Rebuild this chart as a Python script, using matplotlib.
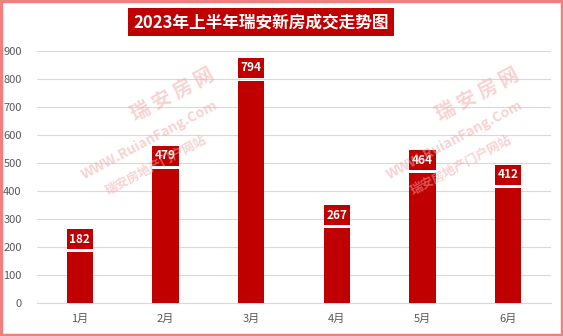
import matplotlib.pyplot as plt
from matplotlib.patches import Rectangle

plt.rcParams['font.family'] = ['Noto Sans CJK SC', 'DejaVu Sans']

# data
months = ['1月', '2月', '3月', '4月', '5月', '6月']
deals = [182, 479, 794, 267, 464, 412]
title = '2023年上半年瑞安新房成交走势图'

red = '#c00000'
gray = '#595959'
box_gap = 11      # white gap between bar and label box (data units)
box_h = 71        # label box height (data units)

fig = plt.figure(figsize=(5.63, 3.36), dpi=100)
ax = fig.add_axes([37 / 563, 1 - 303 / 336, 514 / 563, 252 / 336])

x = range(len(months))
ax.bar(x, deals, width=0.31, color=red, zorder=3)
# value boxes sitting on top of each bar
ax.bar(x, [box_h] * len(deals), bottom=[d + box_gap for d in deals],
       width=0.31, color=red, zorder=3)
for i, d in enumerate(deals):
    ax.text(i, d + box_gap + box_h / 2, str(d), ha='center', va='center',
            color='white', fontsize=8.5, fontweight='bold', zorder=4)

ax.set_xlim(-0.5, len(months) - 0.5)
ax.set_ylim(0, 900)
ax.set_yticks(range(0, 901, 100))
ax.set_xticks(list(x))
ax.set_xticklabels(months)
ax.tick_params(axis='both', length=0, colors=gray, labelsize=8)
ax.tick_params(axis='x', pad=8)
ax.tick_params(axis='y', pad=11)
ax.grid(axis='y', color='#d9d9d9', linewidth=0.8, zorder=0)
for s in ax.spines.values():
    s.set_visible(False)
ax.spines['bottom'].set_visible(True)
ax.spines['bottom'].set_color('#d9d9d9')

# watermark
wm = dict(color='#f4a6a6', alpha=0.5, rotation=28, ha='center', va='center',
          fontweight='bold', zorder=1, family=['Noto Sans CJK SC', 'DejaVu Sans'])
for cx, cy in [(150, 140), (455, 140)]:
    fig.text(cx / 563 + 0.04, 1 - (cy - 45) / 336, '瑞 安 房 网', fontsize=14, **wm)
    fig.text(cx / 563, 1 - cy / 336, 'WWW.RuianFang.Com', fontsize=10, **wm)
    fig.text(cx / 563 + 0.01, 1 - (cy + 25) / 336, '瑞安房地产门户网站', fontsize=9, **wm)

# title box
fig.text(261 / 563, 1 - 22 / 336, title, ha='center', va='center',
         color='white', fontsize=12, fontweight='bold',
         bbox=dict(boxstyle='square,pad=0.3', facecolor=red, edgecolor='none'))

# pink frame
fig.patches.append(Rectangle((0.002, 0.003), 0.996, 0.994, transform=fig.transFigure,
                             fill=False, edgecolor='#f08080', linewidth=2.5))

fig.savefig('out.png', dpi=100)
